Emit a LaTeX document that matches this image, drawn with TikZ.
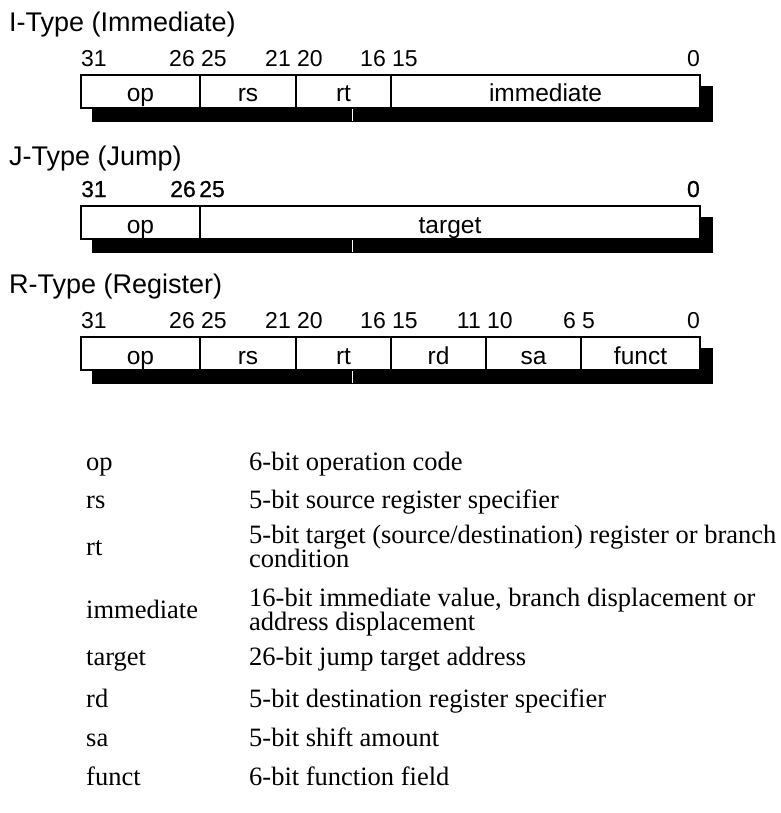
\documentclass[tikz,border=0pt]{standalone}
\usepackage{fontspec}
\setmainfont{Liberation Serif}
\newfontfamily\arialf{Liberation Sans}
\newfontfamily\arialfb[FakeBold=0.6]{Liberation Sans}
\usetikzlibrary{backgrounds}
\begin{document}
\begin{tikzpicture}[x=1pt,y=-1pt,
  title/.style={font=\arialf\fontsize{27}{30}\selectfont, anchor=base west, inner sep=0},
  bitl/.style={font=\arialf\fontsize{23}{26}\selectfont, anchor=base west, inner sep=0},
  bitr/.style={font=\arialf\fontsize{23}{26}\selectfont, anchor=base east, inner sep=0},
  boldbits/.style={font=\arialfb\fontsize{23}{26}\selectfont},
  field/.style={draw, fill=white, line width=1.1pt, inner sep=0,
                text height=27pt, text depth=6pt,
                font=\arialf\fontsize{24.5}{26}\selectfont},
  shadowbox/.style={fill=black},
  gapline/.style={draw=white, line width=1pt},
  lkey/.style={font=\fontsize{26.5}{30}\selectfont, anchor=base west, inner sep=0},
  ]
\useasboundingbox (0,0) rectangle (780,813);

% ---------- I-Type ----------
\node[title] (ti) at (9,32) {I-Type (Immediate)};
\node[bitl] (i31) at (81,67) {31};
\node[bitr] (i26) at (195,67) {26};
\node[bitl] (i25) at (201,67) {25};
\node[bitr] (i21) at (291,67) {21};
\node[bitl] (i20) at (297,67) {20};
\node[bitr] (i16) at (386,67) {16};
\node[bitl] (i15) at (392,67) {15};
\node[bitr] (i0) at (700,67) {0};
\node[field, minimum width=119pt] (iop) at (140.5,91.5) {op};
\node[field, minimum width=96pt] (irs) at (248,91.5) {rs};
\node[field, minimum width=95pt] (irt) at (343.5,91.5) {rt};
\node[field, minimum width=309pt] (iimm) at (545.5,91.5) {immediate};
\begin{scope}[on background layer]
\fill[shadowbox] ([shift={(12,12)}]iop.north west) rectangle ([shift={(12,13)}]iimm.south east);
\end{scope}
\draw[gapline] (352,109) -- (352,121);

% ---------- J-Type ----------
\node[title] (tj) at (9,166) {J-Type (Jump)};
\node[bitl, boldbits] (j31) at (81,197) {31};
\node[bitr, boldbits] (j26) at (196,197) {26};
\node[bitl, boldbits] (j25) at (199,197) {25};
\node[bitr, boldbits] (j0) at (700,197) {0};
\node[field, minimum width=119pt] (jop) at (140.5,222.5) {op};
\node[field, minimum width=500pt] (jtarget) at (450,222.5) {target};
\begin{scope}[on background layer]
\fill[shadowbox] ([shift={(12,12)}]jop.north west) rectangle ([shift={(12,13)}]jtarget.south east);
\end{scope}
\draw[gapline] (352,240) -- (352,252);

% ---------- R-Type ----------
\node[title] (tr) at (9,293) {R-Type (Register)};
\node[bitl] (r31) at (81,328) {31};
\node[bitr] (r26) at (195,328) {26};
\node[bitl] (r25) at (201,328) {25};
\node[bitr] (r21) at (291,328) {21};
\node[bitl] (r20) at (297,328) {20};
\node[bitr] (r16) at (386,328) {16};
\node[bitl] (r15) at (392,328) {15};
\node[bitr] (r11) at (481,328) {11};
\node[bitl] (r10) at (487,328) {10};
\node[bitr] (r6) at (576,328) {6};
\node[bitl] (r5) at (582,328) {5};
\node[bitr] (r0) at (700,328) {0};
\node[field, minimum width=119pt] (rop) at (140.5,353.5) {op};
\node[field, minimum width=96pt] (rrs) at (248,353.5) {rs};
\node[field, minimum width=95pt] (rrt) at (343.5,353.5) {rt};
\node[field, minimum width=95pt] (rrd) at (438.5,353.5) {rd};
\node[field, minimum width=95pt] (rsa) at (533.5,353.5) {sa};
\node[field, minimum width=119pt] (rfunct) at (640.5,353.5) {funct};
\begin{scope}[on background layer]
\fill[shadowbox] ([shift={(12,12)}]rop.north west) rectangle ([shift={(12,13)}]rfunct.south east);
\end{scope}
\draw[gapline] (352,371) -- (352,383);

% ---------- Legend ----------
\node[lkey] (kop) at (86,470) {op};
\node[lkey] (dop) at (249,470) {6-bit operation code};
\node[lkey] (krs) at (86,508) {rs};
\node[lkey] (drs) at (249,508) {5-bit source register specifier};
\node[lkey] (krt) at (86,555) {rt};
\node[lkey] (drta) at (249,543) {5-bit target (source/destination) register or branch};
\node[lkey] (drtb) at (249,567) {condition};
\node[lkey] (kimm) at (86,618) {immediate};
\node[lkey] (dimma) at (249,606) {16-bit immediate value, branch displacement or};
\node[lkey] (dimmb) at (249,630) {address displacement};
\node[lkey] (ktarget) at (86,665) {target};
\node[lkey] (dtarget) at (249,665) {26-bit jump target address};
\node[lkey] (krd) at (86,707) {rd};
\node[lkey] (drd) at (249,707) {5-bit destination register specifier};
\node[lkey] (ksa) at (86,746) {sa};
\node[lkey] (dsa) at (249,746) {5-bit shift amount};
\node[lkey] (kfunct) at (86,785) {funct};
\node[lkey] (dfunct) at (249,785) {6-bit function field};
\end{tikzpicture}
\end{document}
